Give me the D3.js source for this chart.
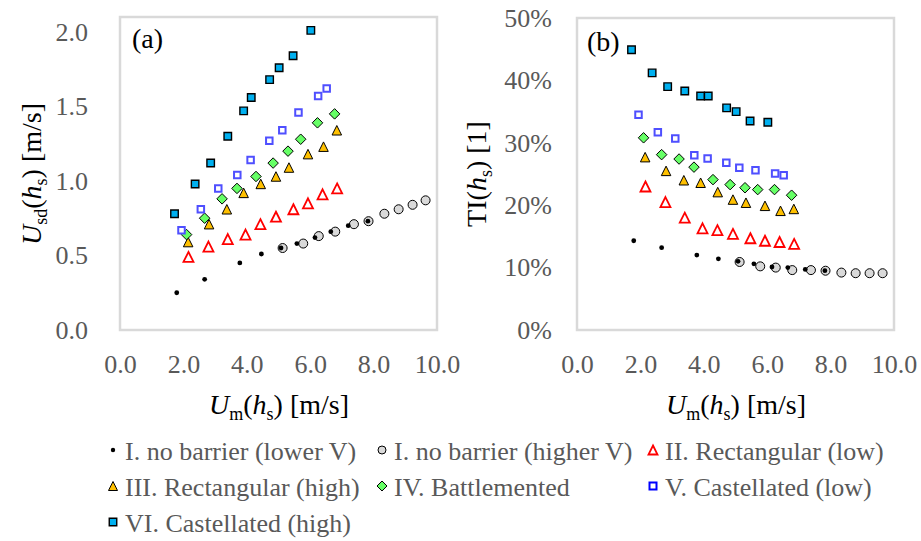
<!DOCTYPE html>
<html>
<head>
<meta charset="utf-8">
<script src="https://cdn.jsdelivr.net/npm/d3@7"></script>
<style>
  body { margin: 0; background: #fff; }
  text { font-family: "Liberation Serif", "Times New Roman", serif; }
</style>
</head>
<body>
<svg id="chart" width="921" height="541"></svg>
<script>
// Data: U_m(h_s) [m/s], U_sd(h_s) [m/s], TI(h_s) [1]
const umI_low  = [1.79, 2.67, 3.78, 4.46, 5.08, 5.58, 6.15, 6.65, 7.20, 7.82];
const usdI_low = [0.25, 0.34, 0.45, 0.51, 0.55, 0.58, 0.62, 0.66, 0.70, 0.73];
const tiI_low  = [0.143, 0.132, 0.120, 0.114, 0.110, 0.106, 0.101, 0.100, 0.097, 0.095];

const umI_high  = [5.13, 5.78, 6.27, 6.79, 7.38, 7.84, 8.34, 8.79, 9.23, 9.64];
const usdI_high = [0.55, 0.58, 0.63, 0.66, 0.71, 0.73, 0.78, 0.81, 0.84, 0.87];
const tiI_high  = [0.109, 0.102, 0.100, 0.096, 0.096, 0.095, 0.092, 0.091, 0.091, 0.091];

const umII  = [2.16, 2.79, 3.40, 3.96, 4.43, 4.92, 5.47, 5.93, 6.39, 6.85];
const usdII = [0.49, 0.56, 0.61, 0.64, 0.71, 0.76, 0.81, 0.85, 0.91, 0.95];
const tiII  = [0.230, 0.205, 0.180, 0.163, 0.160, 0.154, 0.147, 0.143, 0.141, 0.138];

const umIII  = [2.15, 2.81, 3.37, 3.90, 4.44, 4.92, 5.33, 5.93, 6.42, 6.84];
const usdIII = [0.59, 0.71, 0.81, 0.92, 0.98, 1.03, 1.09, 1.18, 1.23, 1.34];
const tiIII  = [0.277, 0.255, 0.240, 0.236, 0.221, 0.209, 0.204, 0.199, 0.191, 0.194];

const umIV  = [2.10, 2.67, 3.22, 3.69, 4.29, 4.83, 5.30, 5.70, 6.23, 6.77];
const usdIV = [0.64, 0.75, 0.88, 0.95, 1.03, 1.12, 1.20, 1.28, 1.39, 1.45];
const tiIV  = [0.308, 0.281, 0.274, 0.261, 0.241, 0.233, 0.228, 0.225, 0.225, 0.216];

const umV  = [1.94, 2.55, 3.10, 3.70, 4.12, 4.71, 5.12, 5.63, 6.25, 6.52];
const usdV = [0.67, 0.81, 0.95, 1.04, 1.14, 1.27, 1.34, 1.46, 1.57, 1.62];
const tiV  = [0.345, 0.317, 0.307, 0.280, 0.275, 0.268, 0.260, 0.256, 0.251, 0.248];

const umVI  = [1.72, 2.37, 2.86, 3.40, 3.90, 4.14, 4.72, 5.02, 5.46, 6.02];
const usdVI = [0.78, 0.98, 1.12, 1.30, 1.47, 1.56, 1.68, 1.76, 1.84, 2.01];
const tiVI  = [0.449, 0.412, 0.390, 0.383, 0.375, 0.375, 0.356, 0.350, 0.335, 0.333];

const xTicks = [0, 2, 4, 6, 8, 10];
const yTicksA = [0, 0.5, 1.0, 1.5, 2.0];
const yTicksB = [0, 0.1, 0.2, 0.3, 0.4, 0.5];

// marker shapes
const tri = s => `M0,${-s / 2}L${s / 2},${s / 2}L${-s / 2},${s / 2}Z`;
const sq = s => `M${-s / 2},${-s / 2}h${s}v${s}h${-s}Z`;
const dia = s => `M0,${-s / 2}L${s / 2},0L0,${s / 2}L${-s / 2},0Z`;
const circ = r => `M${r},0A${r},${r} 0 1,1 ${-r},0A${r},${r} 0 1,1 ${r},0Z`;

const series = [
  { name: "I. no barrier (higher V)", um: umI_high, usd: usdI_high, ti: tiI_high,
    path: circ(4.5), lpath: circ(4), fill: "#d9d9d9", stroke: "#000", sw: 1, leg: [382, 0] },
  { name: "I. no barrier (lower V)", um: umI_low, usd: usdI_low, ti: tiI_low,
    path: circ(2.4), lpath: circ(2.2), fill: "#000", stroke: "none", sw: 0, leg: [113, 0] },
  { name: "II. Rectangular (low)", um: umII, usd: usdII, ti: tiII,
    path: tri(10), lpath: tri(9), fill: "none", stroke: "#ff0000", sw: 1.8, leg: [653, 0] },
  { name: "III. Rectangular (high)", um: umIII, usd: usdIII, ti: tiIII,
    path: tri(9.5), lpath: tri(9), fill: "#ffc000", stroke: "#000", sw: 1, leg: [113, 1] },
  { name: "IV. Battlemented", um: umIV, usd: usdIV, ti: tiIV,
    path: dia(10.5), lpath: dia(10), fill: "#66ff66", stroke: "#000", sw: 1, leg: [382, 1] },
  { name: "V. Castellated (low)", um: umV, usd: usdV, ti: tiV,
    path: sq(6.5), lpath: sq(7), fill: "#fff", stroke: "#4f4fff", sw: 2, leg: [653, 1] },
  { name: "VI. Castellated (high)", um: umVI, usd: usdVI, ti: tiVI,
    path: sq(7.5), lpath: sq(7.5), fill: "#00b0f0", stroke: "#000", sw: 1.4, leg: [113, 2] }
];

const svg = d3.select("#chart");
const tickColor = "#595959";

const panels = [
  { id: "(a)", key: "usd", frame: { left: 120, right: 437, top: 17, bottom: 330 },
    yDomain: [0, 2.1], yTicks: yTicksA, yFmt: d3.format(".1f"), yPad: 32, labelPos: [132, 48] },
  { id: "(b)", key: "ti", frame: { left: 577, right: 894, top: 18, bottom: 330 },
    yDomain: [0, 0.5], yTicks: yTicksB, yFmt: d3.format(".0%"), yPad: 25, labelPos: [587, 51] }
];

panels.forEach(p => {
  const f = p.frame;
  const x = d3.scaleLinear().domain([0, 10]).range([f.left, f.right]);
  const y = d3.scaleLinear().domain(p.yDomain).range([f.bottom, f.top]);
  p.x = x; p.y = y;

  // plot area frame
  svg.append("rect")
    .attr("x", f.left).attr("y", f.top)
    .attr("width", f.right - f.left).attr("height", f.bottom - f.top)
    .attr("fill", "none").attr("stroke", "#d9d9d9").attr("stroke-width", 2.5);

  const xAxis = svg.append("g")
    .attr("transform", `translate(0,${f.bottom})`)
    .call(d3.axisBottom(x).tickValues(xTicks).tickFormat(d3.format(".1f")).tickSize(0).tickPadding(25));
  const yAxis = svg.append("g")
    .attr("transform", `translate(${f.left},0)`)
    .call(d3.axisLeft(y).tickValues(p.yTicks).tickFormat(p.yFmt).tickSize(0).tickPadding(p.yPad));
  [xAxis, yAxis].forEach(a => {
    a.select(".domain").remove();
    a.selectAll("text")
      .style("font-family", "'Liberation Serif', 'Times New Roman', serif")
      .style("font-size", "26px").attr("fill", tickColor);
  });

  svg.append("text")
    .attr("x", p.labelPos[0]).attr("y", p.labelPos[1])
    .style("font-size", "28px").attr("fill", "#000").text(p.id);
});

// axis titles
function xTitle(cx) {
  const t = svg.append("text").attr("x", cx).attr("y", 414)
    .attr("text-anchor", "middle").style("font-size", "28px").attr("fill", "#000");
  t.append("tspan").style("font-style", "italic").text("U");
  t.append("tspan").attr("dy", 6).style("font-size", "18px").text("m");
  t.append("tspan").attr("dy", -6).text("(");
  t.append("tspan").style("font-style", "italic").text("h");
  t.append("tspan").attr("dy", 6).style("font-size", "18px").text("s");
  t.append("tspan").attr("dy", -6).text(") [m/s]");
}
xTitle(279);
xTitle(736);

const ytA = svg.append("text").attr("transform", "translate(41,174) rotate(-90)")
  .attr("text-anchor", "middle").style("font-size", "28px").attr("fill", "#000");
ytA.append("tspan").style("font-style", "italic").text("U");
ytA.append("tspan").attr("dy", 6).style("font-size", "18px").text("sd");
ytA.append("tspan").attr("dy", -6).text("(");
ytA.append("tspan").style("font-style", "italic").text("h");
ytA.append("tspan").attr("dy", 6).style("font-size", "18px").text("s");
ytA.append("tspan").attr("dy", -6).text(") [m/s]");

const ytB = svg.append("text").attr("transform", "translate(486,174) rotate(-90)")
  .attr("text-anchor", "middle").style("font-size", "28px").attr("fill", "#000");
ytB.append("tspan").text("TI(");
ytB.append("tspan").style("font-style", "italic").text("h");
ytB.append("tspan").attr("dy", 6).style("font-size", "18px").text("s");
ytB.append("tspan").attr("dy", -6).text(") [1]");

// markers
panels.forEach(p => {
  series.forEach(s => {
    const pts = s.um.map((u, i) => ({ u, v: s[p.key][i] }));
    svg.append("g").selectAll("path")
      .data(pts)
      .join("path")
      .attr("d", s.path)
      .attr("transform", d => `translate(${p.x(d.u)},${p.y(d.v)})`)
      .attr("fill", s.fill)
      .attr("stroke", s.stroke)
      .attr("stroke-width", s.sw);
  });
});

// legend
const rowY = [460, 496, 532];
const legend = svg.append("g");
series.forEach(s => {
  const [lx, row] = s.leg;
  legend.append("path")
    .attr("d", s.lpath)
    .attr("transform", `translate(${lx},${rowY[row] - 10})`)
    .attr("fill", s.fill).attr("stroke", s.stroke === "#4f4fff" ? "#0000ff" : s.stroke)
    .attr("stroke-width", s.sw);
  legend.append("text")
    .attr("x", lx + 12).attr("y", rowY[row])
    .style("font-size", "26px").attr("fill", tickColor)
    .text(s.name);
});
</script>
</body>
</html>
